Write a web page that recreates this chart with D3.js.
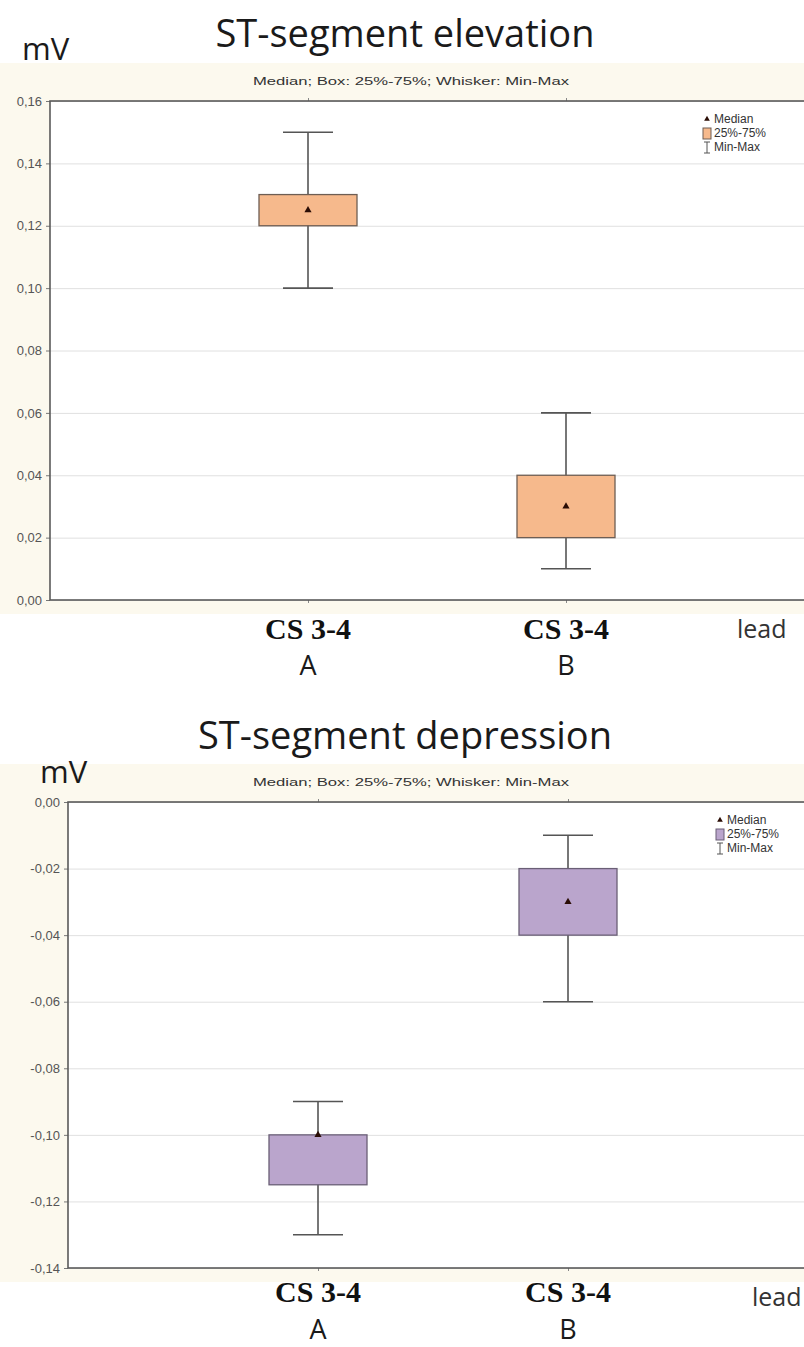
<!DOCTYPE html>
<html>
<head>
<meta charset="utf-8">
<script src="https://cdn.jsdelivr.net/npm/d3@7"></script>
<style>
  body { margin: 0; background: #fff; }
  svg { display: block; }
</style>
</head>
<body>
<svg id="dessin" width="804" height="1347"></svg>
<script>
// categories
let groupes = ["A", "B"];
let derivations = ["CS 3-4", "CS 3-4"];

// ST elevation (mV)
let elevMin = [0.10, 0.01];
let elevQ1 = [0.12, 0.02];
let elevMedian = [0.125, 0.03];
let elevQ3 = [0.13, 0.04];
let elevMax = [0.15, 0.06];
let elevTicks = [0, 0.02, 0.04, 0.06, 0.08, 0.10, 0.12, 0.14, 0.16];

// ST depression (mV)
let depMin = [-0.13, -0.06];
let depQ1 = [-0.115, -0.04];
let depMedian = [-0.10, -0.03];
let depQ3 = [-0.10, -0.02];
let depMax = [-0.09, -0.01];
let depTicks = [-0.14, -0.12, -0.10, -0.08, -0.06, -0.04, -0.02, 0];

let svg = d3.select("#dessin");

function boite(cfg) {
  let lignes = groupes.map((g, i) => ({
    g: g, der: derivations[i],
    min: cfg.min[i], q1: cfg.q1[i], med: cfg.med[i], q3: cfg.q3[i], max: cfg.max[i]
  }));

  let x = d3.scalePoint().domain(groupes).range([0, cfg.largeur]).padding(1);
  let y = d3.scaleLinear().domain(d3.extent(cfg.ticks)).range([cfg.hauteur, 0]);

  let g = svg.append("g").attr("transform", `translate(0,${cfg.top})`);

  // fond crème
  g.append("rect")
    .attr("x", 0).attr("y", -38)
    .attr("width", 804).attr("height", cfg.hauteur + 52)
    .style("fill", "#fcf9ee");

  let p = g.append("g").attr("transform", `translate(${cfg.gauche},0)`);

  p.append("rect")
    .attr("width", cfg.largeur).attr("height", cfg.hauteur)
    .style("fill", "#fff");

  // grille
  p.append("g")
    .call(d3.axisLeft(y).tickValues(cfg.ticks).tickSize(-cfg.largeur).tickFormat(""))
    .call(a => a.select(".domain").remove())
    .selectAll("line").style("stroke", "#e0e0e0");

  // axe gauche
  p.append("g")
    .call(d3.axisLeft(y).tickValues(cfg.ticks).tickSize(4).tickPadding(4)
      .tickFormat(d => d3.format(".2f")(d).replace(".", ",").replace("−", "-")))
    .call(a => a.select(".domain").remove())
    .call(a => a.selectAll("line").style("stroke", "#777"))
    .selectAll("text")
    .style("font-family", "Arial, 'Liberation Sans'")
    .style("font-size", "13px")
    .style("fill", "#555");

  // ticks categories haut / bas
  p.append("g")
    .call(d3.axisTop(x).tickSize(3).tickFormat(""))
    .call(a => a.select(".domain").remove())
    .selectAll("line").style("stroke", "#888");
  p.append("g")
    .attr("transform", `translate(0,${cfg.hauteur})`)
    .call(d3.axisBottom(x).tickSize(3).tickFormat(""))
    .call(a => a.select(".domain").remove())
    .selectAll("line").style("stroke", "#888");

  // moustaches
  let bw = 98, cw = 50;
  let b = p.selectAll(".boite").data(lignes).enter().append("g").attr("class", "boite");
  b.append("line")
    .attr("x1", d => x(d.g)).attr("x2", d => x(d.g))
    .attr("y1", d => y(d.max)).attr("y2", d => y(d.min))
    .style("stroke", "#555").style("stroke-width", 1.6);
  b.selectAll(".cap").data(d => [d.min, d.max].map(v => ({g: d.g, v: v}))).enter()
    .append("line")
    .attr("x1", d => x(d.g) - cw / 2).attr("x2", d => x(d.g) + cw / 2)
    .attr("y1", d => y(d.v)).attr("y2", d => y(d.v))
    .style("stroke", "#555").style("stroke-width", 1.6);
  b.append("rect")
    .attr("x", d => x(d.g) - bw / 2)
    .attr("y", d => y(d.q3))
    .attr("width", bw)
    .attr("height", d => y(d.q1) - y(d.q3))
    .style("fill", cfg.couleur)
    .style("stroke", cfg.trait)
    .style("stroke-width", 1.3);
  b.append("path")
    .attr("d", d3.symbol(d3.symbolTriangle, 22))
    .attr("transform", d => `translate(${x(d.g)},${y(d.med)})`)
    .style("fill", "#2a0d05");

  // cadre
  p.append("rect")
    .attr("width", cfg.largeur).attr("height", cfg.hauteur)
    .style("fill", "none").style("stroke", "#5a5a5a").style("stroke-width", 1.6);

  // textes
  g.append("text")
    .attr("x", 405).attr("y", cfg.titreY)
    .attr("text-anchor", "middle")
    .style("font-family", "'Open Sans'")
    .style("font-size", "38px")
    .style("fill", "#1a1a1a")
    .text(cfg.titre);
  g.append("text")
    .attr("x", cfg.mvX).attr("y", cfg.mvY)
    .style("font-family", "'Open Sans'")
    .style("font-size", "31px")
    .style("fill", "#1a1a1a")
    .text("mV");
  g.append("text")
    .attr("x", 411).attr("y", -16)
    .attr("text-anchor", "middle")
    .attr("textLength", 316)
    .attr("lengthAdjust", "spacingAndGlyphs")
    .style("font-family", "Arial, 'Liberation Sans'")
    .style("font-size", "11px")
    .style("fill", "#333")
    .text("Median; Box: 25%-75%; Whisker: Min-Max");

  // legende
  let lg = g.append("g").attr("transform", `translate(${cfg.legendeX},14)`)
    .style("font-family", "Arial, 'Liberation Sans'")
    .style("font-size", "12px")
    .style("fill", "#333");
  lg.append("path").attr("d", d3.symbol(d3.symbolTriangle, 14))
    .attr("transform", "translate(4,4)").style("fill", "#2a0d05");
  lg.append("text").attr("x", 11).attr("y", 8).text("Median");
  lg.append("rect").attr("x", 0).attr("y", 13).attr("width", 8).attr("height", 11)
    .style("fill", cfg.couleur).style("stroke", cfg.trait);
  lg.append("text").attr("x", 11).attr("y", 22).text("25%-75%");
  lg.append("path").attr("d", "M1,27H7M4,27V38M1,38H7")
    .style("stroke", "#555").style("fill", "none");
  lg.append("text").attr("x", 11).attr("y", 36).text("Min-Max");

  // etiquettes x
  g.selectAll(".der").data(lignes).enter().append("text")
    .attr("x", d => cfg.gauche + x(d.g))
    .attr("y", cfg.hauteur + cfg.derY)
    .attr("text-anchor", "middle")
    .style("font-family", "'Liberation Serif', 'Times New Roman'")
    .style("font-weight", "bold")
    .style("font-size", "30px")
    .style("fill", "#111")
    .text(d => d.der);
  g.selectAll(".grp").data(lignes).enter().append("text")
    .attr("x", d => cfg.gauche + x(d.g))
    .attr("y", cfg.hauteur + cfg.grpY)
    .attr("text-anchor", "middle")
    .style("font-family", "'Open Sans'")
    .style("font-size", "27px")
    .style("fill", "#1a1a1a")
    .text(d => d.g);
  g.append("text")
    .attr("x", cfg.leadX)
    .attr("y", cfg.hauteur + 38)
    .style("font-family", "'Open Sans'")
    .style("font-size", "25px")
    .style("fill", "#333")
    .text("lead");
}

boite({
  titre: "ST-segment elevation", top: 101, hauteur: 499, gauche: 50, largeur: 774,
  titreY: -54, mvX: 22, mvY: -41, derY: 39, grpY: 75,
  min: elevMin, q1: elevQ1, med: elevMedian, q3: elevQ3, max: elevMax, ticks: elevTicks,
  couleur: "#f6b98c", trait: "#6e5e54", legendeX: 703, leadX: 737
});

boite({
  titre: "ST-segment depression", top: 802, hauteur: 466, gauche: 68, largeur: 750,
  titreY: -53, mvX: 40, mvY: -19, derY: 34, grpY: 71,
  min: depMin, q1: depQ1, med: depMedian, q3: depQ3, max: depMax, ticks: depTicks,
  couleur: "#baa5cc", trait: "#6a5f76", legendeX: 716, leadX: 752
});
</script>
</body>
</html>
